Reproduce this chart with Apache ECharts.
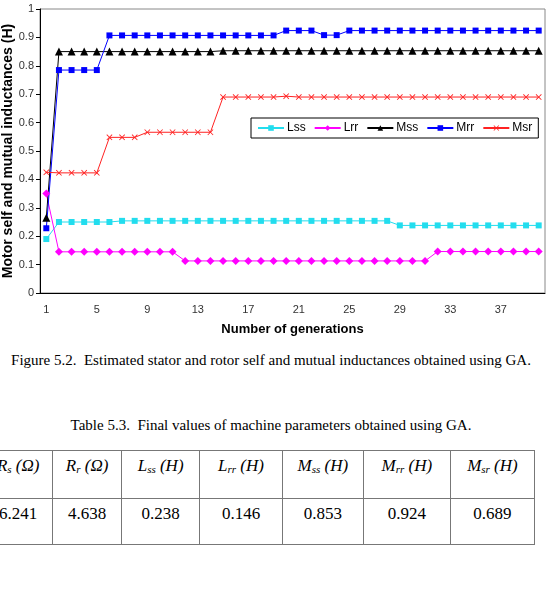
<!DOCTYPE html>
<html>
<head>
<meta charset="utf-8">
<script src="https://cdn.jsdelivr.net/npm/echarts@6/dist/echarts.min.js"></script>
<style>
  html, body { margin: 0; padding: 0; background: #fff; }
  body { width: 552px; height: 591px; position: relative; overflow: hidden; }
  #chart { position: absolute; left: 0; top: 0; width: 552px; height: 340px; }
  .cap {
    position: absolute; left: 0; width: 542px; text-align: center;
    font-family: "Liberation Serif", "Times New Roman", serif; font-size: 15px; color: #000;
    white-space: nowrap;
  }
  table.params {
    position: absolute; left: -17px; top: 450px;
    border-collapse: collapse;
    color: #000;
  }
  table.params td {
    font-family: "Liberation Serif", "Times New Roman", serif;
    border: 1.5px solid #777; text-align: center; vertical-align: top;
    font-size: 17px; padding: 5px 0 0 0; box-sizing: border-box;
  }
  table.params tr.hd td { height: 48px; font-style: italic; }
  table.params tr.val td { height: 46px; }
  table.params sub { font-size: 11px; vertical-align: -2px; }
</style>
</head>
<body>
<div id="chart"></div>
<div class="cap" style="top:352px">Figure 5.2.&nbsp; Estimated stator and rotor self and mutual inductances obtained using GA.</div>
<div class="cap" style="top:417px">Table 5.3.&nbsp; Final values of machine parameters obtained using GA.</div>
<table class="params">
  <tr class="hd">
    <td style="width:72px">R<sub>s</sub> (Ω)</td>
    <td style="width:71px">R<sub>r</sub> (Ω)</td>
    <td style="width:82px">L<sub>ss</sub> (H)</td>
    <td style="width:86px">L<sub>rr</sub> (H)</td>
    <td style="width:85px">M<sub>ss</sub> (H)</td>
    <td style="width:91px">M<sub>rr</sub> (H)</td>
    <td style="width:88px">M<sub>sr</sub> (H)</td>
  </tr>
  <tr class="val">
    <td>6.241</td><td>4.638</td><td>0.238</td><td>0.146</td><td>0.853</td><td>0.924</td><td>0.689</td>
  </tr>
</table>
<script>
// generations 1..40
const generations = ['1','2','3','4','5','6','7','8','9','10','11','12','13','14','15','16','17','18','19','20',
  '21','22','23','24','25','26','27','28','29','30','31','32','33','34','35','36','37','38','39','40']

const lss = [0.190, 0.250, 0.250, 0.250, 0.250, 0.250, 0.254, 0.254, 0.254, 0.254,
  0.254, 0.254, 0.254, 0.254, 0.254, 0.254, 0.254, 0.254, 0.254, 0.254,
  0.254, 0.254, 0.254, 0.254, 0.254, 0.254, 0.254, 0.254, 0.238, 0.238,
  0.238, 0.238, 0.238, 0.238, 0.238, 0.238, 0.238, 0.238, 0.238, 0.238]

const lrr = [0.350, 0.145, 0.145, 0.145, 0.145, 0.145, 0.145, 0.145, 0.145, 0.145,
  0.145, 0.113, 0.113, 0.113, 0.113, 0.113, 0.113, 0.113, 0.113, 0.113,
  0.113, 0.113, 0.113, 0.113, 0.113, 0.113, 0.113, 0.113, 0.113, 0.113,
  0.113, 0.146, 0.146, 0.146, 0.146, 0.146, 0.146, 0.146, 0.146, 0.146]

const mss = [0.265, 0.850, 0.850, 0.850, 0.850, 0.850, 0.850, 0.850, 0.850, 0.850,
  0.850, 0.850, 0.850, 0.850, 0.853, 0.853, 0.853, 0.853, 0.853, 0.853,
  0.853, 0.853, 0.853, 0.853, 0.853, 0.853, 0.853, 0.853, 0.853, 0.853,
  0.853, 0.853, 0.853, 0.853, 0.853, 0.853, 0.853, 0.853, 0.853, 0.853]

const mrr = [0.228, 0.785, 0.785, 0.785, 0.785, 0.907, 0.907, 0.907, 0.907, 0.907,
  0.907, 0.907, 0.907, 0.907, 0.907, 0.907, 0.907, 0.907, 0.907, 0.924,
  0.924, 0.924, 0.908, 0.908, 0.924, 0.924, 0.924, 0.924, 0.924, 0.924,
  0.924, 0.924, 0.924, 0.924, 0.924, 0.924, 0.924, 0.924, 0.924, 0.924]

const msr = [0.425, 0.423, 0.423, 0.423, 0.423, 0.548, 0.548, 0.548, 0.566, 0.566,
  0.566, 0.566, 0.566, 0.566, 0.690, 0.690, 0.690, 0.690, 0.690, 0.693,
  0.690, 0.690, 0.690, 0.690, 0.690, 0.690, 0.690, 0.690, 0.690, 0.690,
  0.690, 0.690, 0.690, 0.690, 0.690, 0.690, 0.690, 0.690, 0.690, 0.690]

const yTitle = 'Motor self and mutual inductances (H)'

const font = '"Liberation Sans", Arial, sans-serif'
const crossMark = 'path://M0,1L1,0L5,4L9,0L10,1L6,5L10,9L9,10L5,6L1,10L0,9L4,5Z'

function line(name, data, color, symbol, size) {
  return {
    name, type: 'line', data,
    symbol, symbolSize: size,
    showAllSymbol: true,
    lineStyle: { color, width: 1 },
    itemStyle: { color },
    animation: false,
  }
}

const chart = echarts.init(document.getElementById('chart'), null, { renderer: 'canvas' })
chart.setOption({
  animation: false,
  grid: {
    left: 40, right: 7, top: 9, bottom: 47,
    outerBoundsMode: 'none',
    containLabel: false,
    show: true, borderColor: '#888', borderWidth: 1,
  },
  // y axis title drawn as rotated text so it can sit partly off the left edge like the original
  graphic: [{
    type: 'text',
    x: 8, y: 151,
    rotation: Math.PI / 2,
    style: {
      text: yTitle,
      align: 'center', verticalAlign: 'middle',
      fontFamily: font, fontSize: 14, fontWeight: 'bold', fill: '#000',
    },
  }],
  legend: {
    left: 251, top: 118,
    width: 300,
    padding: [4, 6],
    itemGap: 8, itemWidth: 26, itemHeight: 7,
    backgroundColor: '#fff',
    borderColor: '#000', borderWidth: 1, borderRadius: 0,
    textStyle: { fontFamily: font, fontSize: 12, color: '#000', padding: [0, 0, 0, -2] },
    data: ['Lss', 'Lrr', 'Mss', 'Mrr', 'Msr'],
  },
  xAxis: {
    type: 'category',
    data: generations,
    boundaryGap: true,
    name: 'Number of generations',
    nameLocation: 'middle',
    nameGap: 30,
    nameTextStyle: { fontFamily: font, fontSize: 13, fontWeight: 'bold', color: '#000' },
    axisLine: { lineStyle: { color: '#000', width: 1 } },
    axisTick: { interval: 3, length: 5, lineStyle: { color: '#000' } },
    axisLabel: { interval: 3, margin: 11, fontFamily: font, fontSize: 11, color: '#333' },
  },
  yAxis: {
    type: 'value',
    min: 0, max: 1, interval: 0.1,
    axisLine: { show: true, lineStyle: { color: '#000', width: 1 } },
    axisTick: { show: true, length: 4, lineStyle: { color: '#000' } },
    axisLabel: { margin: 6, fontFamily: font, fontSize: 11, color: '#333' },
    splitLine: { show: false },
  },
  series: [
    line('Lss', lss, '#22DDEE', 'rect', 6),
    line('Lrr', lrr, '#FF00FF', 'diamond', 8),
    line('Mss', mss, '#000000', 'triangle', 8),
    line('Mrr', mrr, '#0000FF', 'rect', 6),
    line('Msr', msr, '#FF2222', crossMark, 6),
  ],
})
</script>
</body>
</html>
